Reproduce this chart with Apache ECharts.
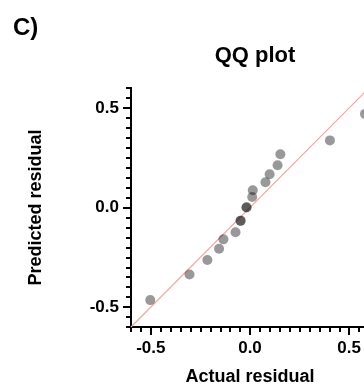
<!DOCTYPE html>
<html>
<head>
<meta charset="utf-8">
<script src="https://cdn.jsdelivr.net/npm/echarts@6/dist/echarts.min.js"></script>
<style>
  html, body { margin: 0; padding: 0; background: #fff; }
  #chart { width: 364px; height: 385px; }
</style>
</head>
<body>
<div id="chart"></div>
<script>
// 实际残差 (x) 和 预测残差 (y)
const actualResidual = [-0.503, -0.305, -0.215, -0.156, -0.134, -0.073, -0.048, -0.047,
    -0.018, -0.017, 0.011, 0.014, 0.078, 0.099, 0.139, 0.153, 0.403, 0.58];
const predictedResidual = [-0.465, -0.336, -0.264, -0.207, -0.160, -0.124, -0.067, -0.066,
    0.000, 0.001, 0.053, 0.087, 0.127, 0.167, 0.212, 0.267, 0.337, 0.47];
// 参考线 y = x
const refLine = [-0.6, 0.6];
// 主刻度 / 标签
const majorTicks = [-0.5, 0, 0.5];
// 小刻度
const minorTicks = [-0.6, -0.55, -0.5, -0.45, -0.4, -0.35, -0.3, -0.25, -0.2, -0.15, -0.1, -0.05,
    0, 0.05, 0.1, 0.15, 0.2, 0.25, 0.3, 0.35, 0.4, 0.45, 0.5, 0.55, 0.6];

const font = '"Liberation Sans", Arial, sans-serif';
const chart = echarts.init(document.getElementById('chart'));

const points = actualResidual.map((x, i) => [x, predictedResidual[i]]);

// 两个重叠的 grid：一个画小刻度，一个画主刻度和标签
const gridBox = { left: 131, right: -5, top: 88, bottom: 58, outerBoundsMode: 'none' };

// grid 0：只画小刻度
const minorAxis = () => ({
    type: 'value',
    gridIndex: 0,
    min: -0.6,
    max: 0.6,
    splitLine: { show: false },
    axisLine: { show: true, onZero: false, lineStyle: { color: '#000', width: 2 } },
    axisTick: { show: true, customValues: minorTicks, length: 5, lineStyle: { color: '#000', width: 2 } },
    axisLabel: { show: false }
});

// grid 1：主刻度、标签和轴名
const majorAxis = (name, isX) => ({
    type: 'value',
    gridIndex: 1,
    min: -0.6,
    max: 0.6,
    name: name,
    nameLocation: 'middle',
    nameGap: isX ? 41 : 86,
    nameTextStyle: { color: '#000', fontSize: 18, fontWeight: 'bold', fontFamily: font },
    splitLine: { show: false },
    axisLine: { show: true, onZero: false, lineStyle: { color: '#000', width: 2 } },
    axisTick: { show: true, customValues: majorTicks, length: 8, lineStyle: { color: '#000', width: 2 } },
    axisLabel: {
        customValues: majorTicks,
        color: '#000',
        fontSize: 17,
        fontWeight: 'bold',
        fontFamily: font,
        margin: isX ? 13 : 12,
        formatter: v => v.toFixed(1)
    }
});

const option = {
    animation: false,
    title: {
        text: 'QQ plot',
        left: 250,
        textAlign: 'center',
        top: 40,
        textStyle: { color: '#000', fontSize: 22, fontWeight: 'bold', fontFamily: font }
    },
    graphic: [{
        type: 'text',
        left: 13,
        top: 16,
        style: { text: 'C)', fill: '#000', fontSize: 24, fontWeight: 'bold', fontFamily: font }
    }],
    grid: [Object.assign({}, gridBox), Object.assign({}, gridBox)],
    xAxis: [
        Object.assign(minorAxis(), { position: 'bottom' }),
        Object.assign(majorAxis('Actual residual', true), { position: 'bottom' })
    ],
    yAxis: [
        Object.assign(minorAxis(), { position: 'left' }),
        Object.assign(majorAxis('Predicted residual', false), { position: 'left' })
    ],
    series: [{
        // 参考线 (grid 0)
        type: 'line',
        xAxisIndex: 0,
        yAxisIndex: 0,
        data: refLine.map(v => [v, v]),
        symbol: 'none',
        lineStyle: { color: '#f4a3a3', width: 1.2 },
        z: 1
    }, {
        // 散点 (grid 1)
        type: 'scatter',
        xAxisIndex: 1,
        yAxisIndex: 1,
        data: points,
        symbolSize: 10,
        itemStyle: { color: 'rgba(0,0,0,0.5)' },
        z: 2
    }]
};

chart.setOption(option);
</script>
</body>
</html>
